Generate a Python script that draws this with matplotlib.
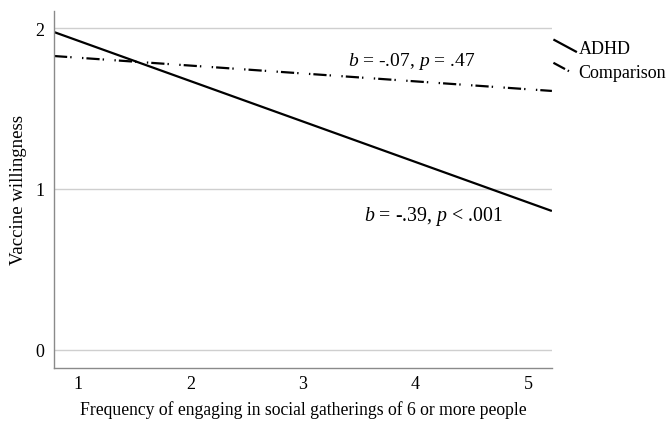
import matplotlib
matplotlib.use("Agg")
import matplotlib.pyplot as plt
from matplotlib.lines import Line2D
from matplotlib.legend_handler import HandlerLine2D

plt.rcParams['font.family'] = ['Liberation Serif', 'DejaVu Serif']
plt.rcParams['mathtext.fontset'] = 'custom'
plt.rcParams['mathtext.rm'] = 'Liberation Serif'
plt.rcParams['mathtext.it'] = 'Liberation Serif:italic'
plt.rcParams['lines.scale_dashes'] = False

# simple slopes at the ends of the observed range
x_ends = [0.787, 5.213]
adhd = [1.975, 0.863]
comparison = [1.826, 1.609]
x_ticks = [1, 2, 3, 4, 5]
y_ticks = [0, 1, 2]
labels = ['ADHD', 'Comparison']
notes = [r'$b$ = -.07, $p$ = .47', r'$b$ = -.39, $p$ < .001']


class SlantHandler(HandlerLine2D):
    # SPSS-style legend key: a short descending stroke
    def create_artists(self, legend, orig_handle, xdescent, ydescent,
                       width, height, fontsize, trans):
        x0, x1 = -xdescent, -xdescent + width
        y0, y1 = -ydescent + height * 1.1, -ydescent + height * 0.1
        ln = Line2D([x0, x1], [y0, y1])
        self.update_prop(ln, orig_handle, legend)
        ln.set_transform(trans)
        return [ln]


fig = plt.figure(figsize=(6.71, 4.27), dpi=100)
ax = fig.add_axes([0.0805, 0.136, 0.742, 0.836])

dashdot = (0, (9.5, 2.2, 1.0, 7.5, 1.0, 2.2))
h1, = ax.plot(x_ends, adhd, color='black', lw=1.6, solid_capstyle='butt')
h2, = ax.plot(x_ends, comparison, color='black', lw=1.6, linestyle=dashdot)

ax.set_xlim(x_ends[0], x_ends[1])
ax.set_ylim(-0.112, 2.106)
ax.set_xticks(x_ticks)
ax.set_yticks(y_ticks)
ax.tick_params(length=0, labelsize=13)
ax.tick_params(axis='x', pad=5)
ax.tick_params(axis='y', pad=7)
ax.yaxis.grid(True, color='#cfcfcf', lw=1)
ax.set_axisbelow(True)
for s in ['top', 'right']:
    ax.spines[s].set_visible(False)
for s in ['left', 'bottom']:
    ax.spines[s].set_color('#8a8a8a')
    ax.spines[s].set_linewidth(1)

ax.set_xlabel('Frequency of engaging in social gatherings of 6 or more people',
              fontsize=12.7, labelpad=6)
ax.set_ylabel('Vaccine willingness', fontsize=13.5, labelpad=6)

ax.text(3.97, 1.80, notes[0], fontsize=14, ha='center', va='center')
ax.text(4.16, 0.835, notes[1], fontsize=14.3, ha='center', va='center')

fig.legend([h1, h2], labels, loc='upper left', bbox_to_anchor=(0.814, 0.92),
           frameon=False, fontsize=13, handlelength=1.3, handletextpad=0.1,
           labelspacing=0.35, borderaxespad=0,
           handler_map={Line2D: SlantHandler()})

fig.savefig('out.png', dpi=100)
